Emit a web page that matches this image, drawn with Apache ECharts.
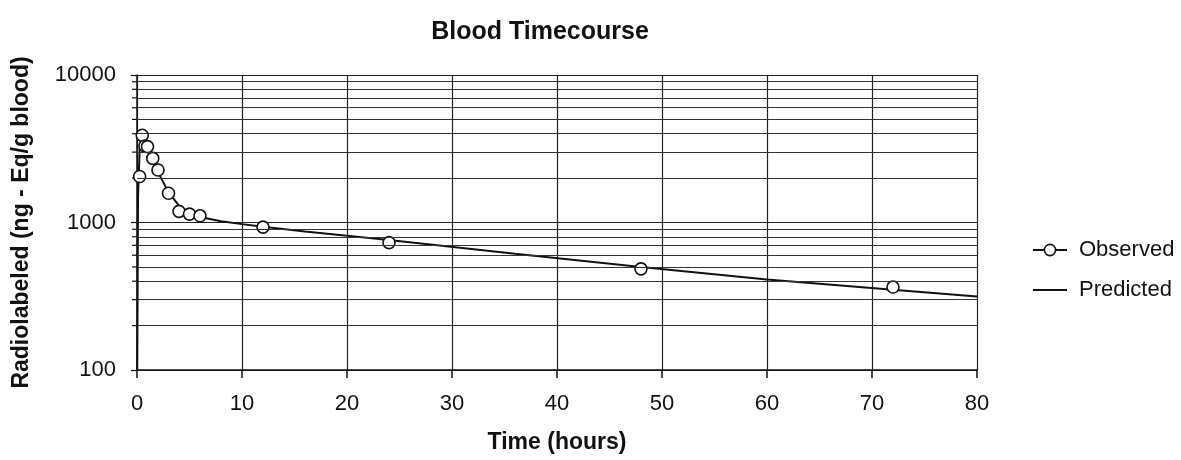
<!DOCTYPE html>
<html>
<head>
<meta charset="utf-8">
<script src="https://cdn.jsdelivr.net/npm/echarts@6/dist/echarts.min.js"></script>
<style>html,body{margin:0;padding:0;background:#fff}#c{width:1181px;height:460px}</style>
</head>
<body>
<div id="c"></div>
<script>
// Observed data (time in hours, value ng-Eq/g blood)
const observedTime  = [0.25, 0.5, 0.75, 1, 1.5, 2, 3, 4, 5, 6, 12, 24, 48, 72];
const observedValue = [2050, 3900, 3300, 3270, 2720, 2270, 1580, 1190, 1140, 1110, 930, 730, 485, 365];
// Predicted curve
const predictedTime  = [0, 0.1, 0.25, 0.5, 0.75, 1, 1.5, 2, 3, 4, 5, 6, 8, 10, 12, 16, 24, 36, 48, 60, 72, 80];
const predictedValue = [60, 1500, 3100, 3900, 3700, 3300, 2700, 2200, 1600, 1300, 1160, 1090, 1020, 975, 935, 870, 760, 615, 500, 410, 350, 315];
// Minor log gridlines
const minorGrid = [200, 300, 400, 500, 600, 700, 800, 900, 2000, 3000, 4000, 5000, 6000, 7000, 8000, 9000];
const xTicks = [0, 10, 20, 30, 40, 50, 60, 70, 80];
const yTicks = [100, 1000, 10000];

const font = 'Liberation Sans, Arial, sans-serif';
const chart = echarts.init(document.getElementById('c'));
chart.setOption({
  animation: false,
  backgroundColor: '#fff',
  title: {
    text: 'Blood Timecourse',
    left: 535, top: 15, textAlign: 'center',
    textStyle: {fontFamily: font, fontSize: 25, fontWeight: 'bold', color: '#111'}
  },
  grid: {left: 137, right: 204, top: 75, bottom: 90, containLabel: false},
  legend: {
    orient: 'vertical', left: 1027, top: 234, itemGap: 18,
    itemWidth: 34, itemHeight: 14,
    textStyle: {fontFamily: font, fontSize: 22, color: '#111', padding: [0, 0, 0, 7]},
    data: [
      {name: 'Observed', lineStyle: {width: 2, color: '#111', opacity: 1}, itemStyle: {color: '#fff', borderColor: '#111', borderWidth: 1.6}},
      {name: 'Predicted', itemStyle: {opacity: 0}, lineStyle: {width: 2, color: '#111', opacity: 1}}
    ]
  },
  xAxis: {
    type: 'value', min: 0, max: 80, interval: 10,
    name: 'Time (hours)', nameLocation: 'middle', nameGap: 61,
    nameTextStyle: {fontFamily: font, fontSize: 23, fontWeight: 'bold', color: '#111'},
    axisLine: {show: true, lineStyle: {color: '#111', width: 1.5}},
    axisTick: {show: true, length: 8, inside: false, lineStyle: {color: '#111', width: 1.5}},
    axisLabel: {margin: 23, fontFamily: font, fontSize: 22, color: '#111',
      formatter: v => xTicks.includes(v) ? String(v) : ''},
    splitLine: {show: true, lineStyle: {color: '#222', width: 1.2}}
  },
  yAxis: {
    type: 'log', logBase: 10, min: 100, max: 10000,
    name: 'Radiolabeled (ng - Eq/g blood)', nameLocation: 'middle', nameGap: 104,
    nameTextStyle: {fontFamily: font, fontSize: 23, fontWeight: 'bold', color: '#111'},
    axisLine: {show: true, lineStyle: {color: '#111', width: 1.5}},
    axisTick: {show: true, length: 6, lineStyle: {color: '#111', width: 1.2}},
    axisLabel: {margin: 21, fontFamily: font, fontSize: 22, color: '#111',
      formatter: v => yTicks.includes(Math.round(v)) ? String(Math.round(v)) : ''},
    splitLine: {show: true, lineStyle: {color: '#222', width: 1.2}}
  },
  series: [
    {
      name: 'gridMinor', type: 'line', data: [], silent: true,
      markLine: {
        silent: true, symbol: 'none', label: {show: false},
        lineStyle: {color: '#333', width: 1, type: 'solid'},
        data: minorGrid.map(v => ({yAxis: v}))
      }
    },
    {
      name: 'gridTicks', type: 'custom', silent: true, clip: false,
      data: minorGrid.map(v => [0, v]),
      renderItem: (params, api) => {
        const p = api.coord([api.value(0), api.value(1)]);
        return {type: 'line', shape: {x1: p[0] - 5, y1: p[1], x2: p[0], y2: p[1]},
          style: {stroke: '#111', lineWidth: 1.2}};
      }
    },
    {
      name: 'Predicted', type: 'line', symbol: 'none', z: 3,
      data: predictedTime.map((t, i) => [t, predictedValue[i]]),
      lineStyle: {color: '#111', width: 2},
      itemStyle: {color: '#111'}
    },
    {
      name: 'Observed', type: 'line', z: 4,
      symbol: 'circle', symbolSize: 12,
      data: observedTime.map((t, i) => [t, observedValue[i]]),
      lineStyle: {width: 0, opacity: 0},
      itemStyle: {color: '#fff', borderColor: '#111', borderWidth: 1.6}
    }
  ]
});
</script>
</body>
</html>
